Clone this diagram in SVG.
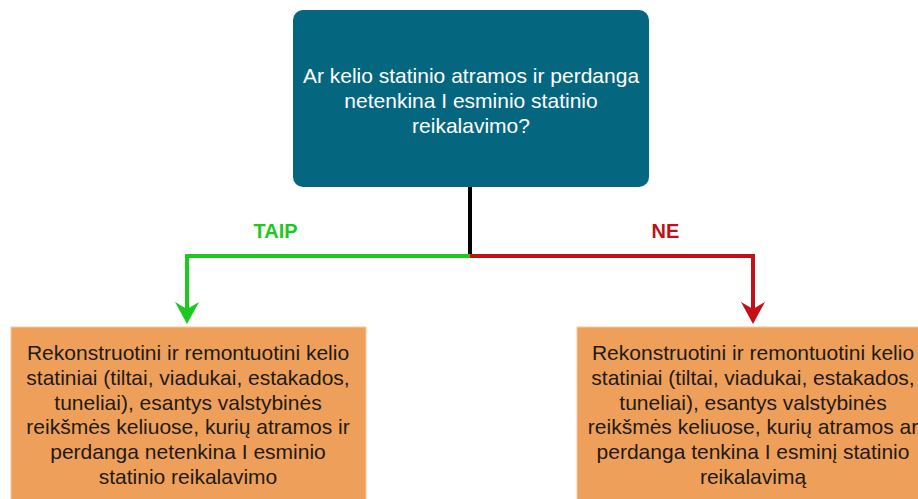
<svg xmlns="http://www.w3.org/2000/svg" width="918" height="499" viewBox="0 0 918 499">
<defs>
<style>
.q{fill:#05677f}
.o{fill:#eea05b;stroke:#f6c9a2;stroke-width:1}
.qt{font-family:"Liberation Sans",Arial,sans-serif;font-size:21px;fill:#ffffff;text-anchor:middle}
.ot{font-family:"Liberation Sans",Arial,sans-serif;font-size:21px;fill:#1e1a16;text-anchor:middle}
.lbl{font-family:"Liberation Sans",Arial,sans-serif;font-size:20px;font-weight:bold;text-anchor:middle}
.ln{fill:none;stroke-width:4}
</style>
</defs>
<rect width="918" height="499" fill="#ffffff"/>
<g id="connectors">
<path class="ln" d="M470,187 L470,256" stroke="#000000"/>
<path class="ln" d="M470,256 L187,256 L187,314" stroke="#1ec81e"/>
<path class="ln" d="M470,256 L753,256 L753,314" stroke="#c50f17"/>
<path d="M175,302 L187,324 L199,302 L187,309 Z" fill="#1ec81e"/>
<path d="M741,302 L753,324 L765,302 L753,309 Z" fill="#c50f17"/>
<text class="lbl" x="275.5" y="238" fill="#1ec81e">TAIP</text>
<text class="lbl" x="665.5" y="238" fill="#c50f17">NE</text>
</g>
<g id="question">
<rect class="q" x="293" y="10" width="356" height="177" rx="10"/>
<text class="qt" x="471" y="83">Ar kelio statinio atramos ir perdanga</text>
<text class="qt" x="471" y="108">netenkina I esminio statinio</text>
<text class="qt" x="471" y="133">reikalavimo?</text>
</g>
<g id="taip">
<rect class="o" x="11" y="327" width="355" height="180"/>
<text class="ot" x="188" y="360">Rekonstruotini ir remontuotini kelio</text>
<text class="ot" x="188" y="385">statiniai (tiltai, viadukai, estakados,</text>
<text class="ot" x="188" y="410">tuneliai), esantys valstybinės</text>
<text class="ot" x="188" y="434">reikšmės keliuose, kurių atramos ir</text>
<text class="ot" x="188" y="459">perdanga netenkina I esminio</text>
<text class="ot" x="188" y="484">statinio reikalavimo</text>
</g>
<g id="ne">
<rect class="o" x="577" y="327" width="355" height="180"/>
<text class="ot" x="753" y="360">Rekonstruotini ir remontuotini kelio</text>
<text class="ot" x="753" y="385">statiniai (tiltai, viadukai, estakados,</text>
<text class="ot" x="753" y="410">tuneliai), esantys valstybinės</text>
<text class="ot" x="753" y="434">reikšmės keliuose, kurių atramos ar</text>
<text class="ot" x="753" y="459">perdanga tenkina I esminį statinio</text>
<text class="ot" x="753" y="484">reikalavimą</text>
</g>
</svg>
